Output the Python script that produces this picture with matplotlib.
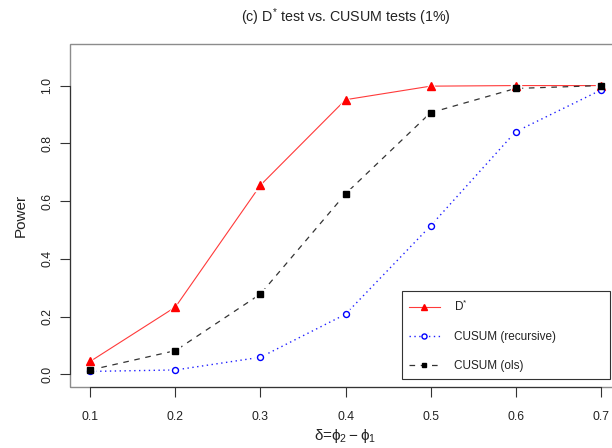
import matplotlib
matplotlib.use("Agg")
import matplotlib.pyplot as plt
from matplotlib.patches import Rectangle

plt.rcParams['font.family'] = ['Liberation Sans', 'DejaVu Sans']
plt.rcParams['mathtext.fontset'] = 'custom'
plt.rcParams['mathtext.rm'] = 'Liberation Sans'
plt.rcParams['mathtext.it'] = 'Liberation Sans'
plt.rcParams['mathtext.bf'] = 'Liberation Sans:bold'

delta = [0.1, 0.2, 0.3, 0.4, 0.5, 0.6, 0.7]
d_star = [0.045, 0.233, 0.655, 0.951, 0.998, 1.0, 1.0]
cusum_rec = [0.010, 0.015, 0.059, 0.208, 0.514, 0.840, 0.984]
cusum_ols = [0.015, 0.082, 0.278, 0.625, 0.906, 0.990, 1.0]
xticks = [0.1, 0.2, 0.3, 0.4, 0.5, 0.6, 0.7]
yticks = [0.0, 0.2, 0.4, 0.6, 0.8, 1.0]

fig = plt.figure(figsize=(6.12, 4.48), dpi=100)
ax = fig.add_axes([70/612, 1-387/448, (621-70)/612, (387-44)/448])

series = [
    (d_star, dict(color='#ff3a3a', lw=0.8, ls='-'), dict(marker='^', ms=5.2, mfc='red', mec='red'), r'D$^{*}$'),
    (cusum_rec, dict(color='#2020ff', lw=1.0, ls=(0, (1, 2.5))), dict(marker='o', ms=4.3, mfc='white', mec='blue', mew=1.0), 'CUSUM (recursive)'),
    (cusum_ols, dict(color='#333333', lw=0.9, ls=(0, (4.5, 4.5))), dict(marker='s', ms=3.8, mfc='black', mec='black'), 'CUSUM (ols)'),
]
for ys, lkw, mkw, lab in series:
    ax.plot(delta, ys, zorder=2, **lkw)
for ys, lkw, mkw, lab in series:
    ax.plot(delta, ys, ls='none', marker=mkw['marker'], ms=mkw['ms'] + 3.5,
            mfc='white', mec='white', zorder=2.5)
handles = []
for ys, lkw, mkw, lab in series:
    ax.plot(delta, ys, ls='none', zorder=3, **mkw)
    lm = dict(mkw)
    lm['ms'] = mkw['ms'] * 0.85
    h, = ax.plot([], [], label=lab, **lkw, **lm)
    handles.append(h)

ax.set_xlim(0.076, 0.724)
ax.set_ylim(-0.044, 1.144)
ax.set_xticks(xticks)
ax.set_xticklabels([f"{v:.1f}" for v in xticks])
ax.set_yticks(yticks)
ax.set_yticklabels([f"{v:.1f}" for v in yticks], rotation=90, va='center')
ax.tick_params(direction='out', length=7, width=0.8, color='#333333',
               labelsize=8.8, labelcolor='#222222')
ax.tick_params(axis='x', pad=10)
ax.tick_params(axis='y', pad=5)

for s in ['top', 'right']:
    ax.spines[s].set_visible(False)
ax.spines['left'].set_bounds(0.0, 1.0)
ax.spines['bottom'].set_bounds(0.1, 0.7)
for s in ['left', 'bottom']:
    ax.spines[s].set_color('#333333')
    ax.spines[s].set_linewidth(0.8)
ax.add_patch(Rectangle((0, 0), 1, 1, transform=ax.transAxes, fill=False,
                       edgecolor='#8c8c8c', lw=1.0, clip_on=False, zorder=0.5))

ax.set_title(r'(c) D$^{*}$ test vs. CUSUM tests (1%)', fontsize=10.3, pad=16, color='#222222')
ax.set_ylabel('Power', fontsize=11, labelpad=10, color='#222222')
ax.set_xlabel(r'$\delta$=$\phi_2-\phi_1$', fontsize=11, labelpad=3, color='#222222')

leg = ax.legend(handles=handles, loc='lower left',
                bbox_to_anchor=(402/612, 1-379/448, 208/612, 90/448),
                bbox_transform=fig.transFigure, mode='expand',
                fancybox=False, edgecolor='#333333', framealpha=1, fontsize=8.5,
                handlelength=2.6, handletextpad=1.2, labelspacing=1.45, borderpad=0.6,
                borderaxespad=0)
leg.get_frame().set_linewidth(0.8)
for t in leg.get_texts():
    t.set_color('#222222')

fig.savefig('out.png', dpi=100)
